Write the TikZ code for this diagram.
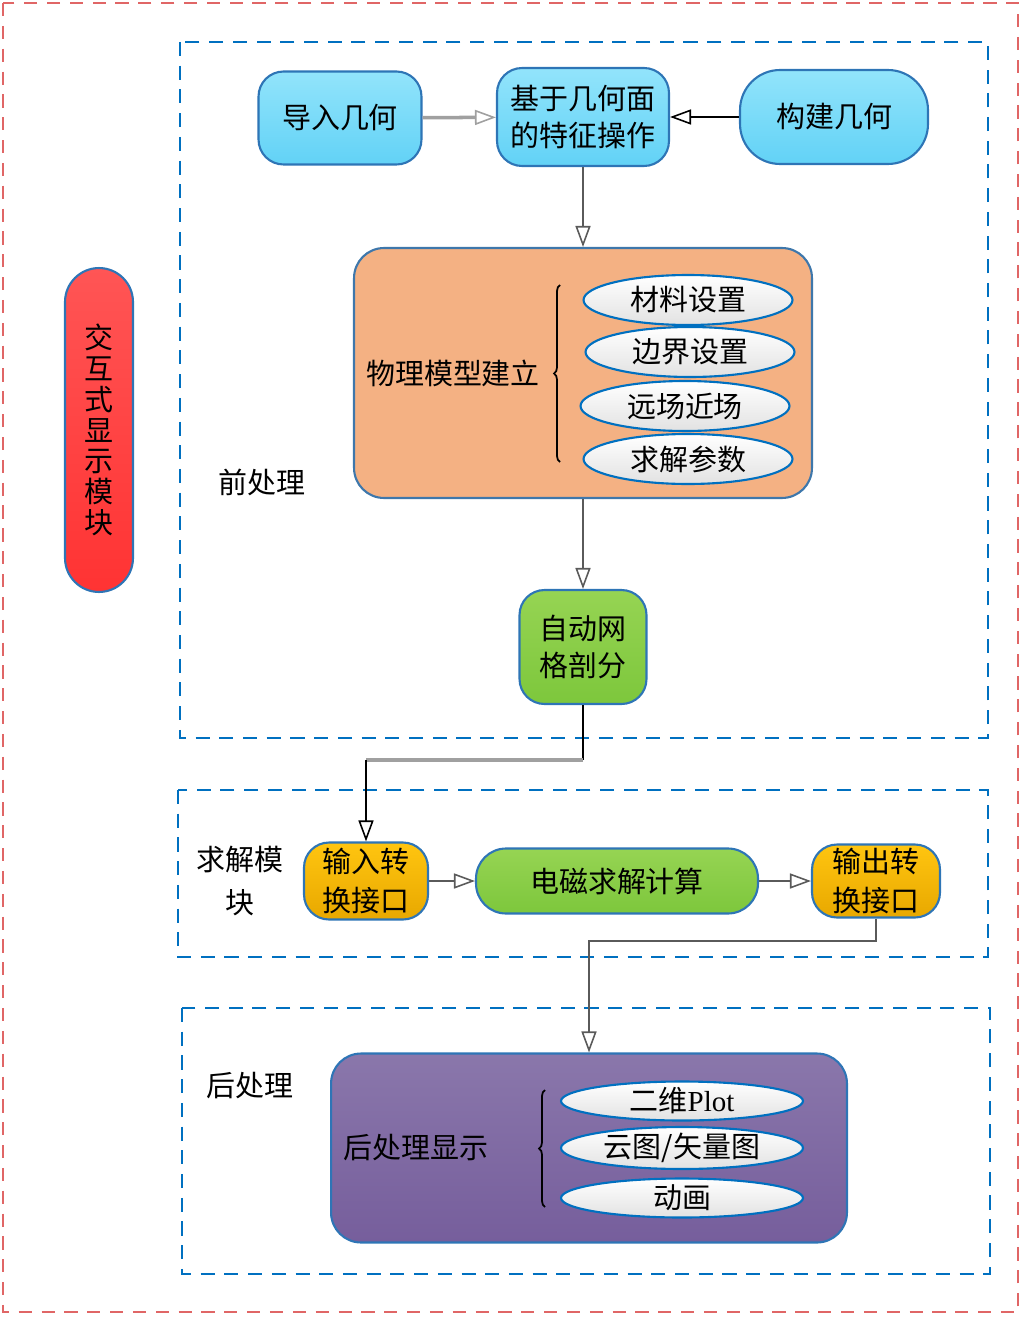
\documentclass[tikz,border=0pt]{standalone}
\usepackage{fontspec}
\setmainfont{Noto Sans CJK SC}
\newfontfamily\plotfont{Liberation Serif}
\usetikzlibrary{arrows.meta}
\usetikzlibrary{shapes.geometric}
\usetikzlibrary{decorations.pathreplacing}
\usetikzlibrary{calc}
\definecolor{lineblue}{HTML}{2E75B6}
\definecolor{zoneblue}{HTML}{0070C0}
\definecolor{zonered}{HTML}{E06666}
\definecolor{skytop}{HTML}{92E4FB}
\definecolor{skybot}{HTML}{62D2F6}
\definecolor{peach}{HTML}{F4B183}
\definecolor{leaftop}{HTML}{96D453}
\definecolor{leafbot}{HTML}{7DC73C}
\definecolor{ambertop}{HTML}{FFC510}
\definecolor{amberbot}{HTML}{E8A800}
\definecolor{plumtop}{HTML}{8A77AB}
\definecolor{plumbot}{HTML}{765E9C}
\definecolor{redtop}{HTML}{FF5555}
\definecolor{redbot}{HTML}{FF3333}
\definecolor{ovalgray}{HTML}{E2E2E2}
\definecolor{wiregray}{HTML}{5A5A5A}
\definecolor{palegray}{HTML}{A0A0A0}
\tikzstyle{box}=[draw=lineblue, line width=1.2pt, rounded corners=0.5cm, align=center, inner sep=0pt, font=\fontsize{16.5}{21}\selectfont]
\tikzstyle{skybox}=[box, top color=skytop, bottom color=skybot]
\tikzstyle{leafbox}=[box, top color=leaftop, bottom color=leafbot]
\tikzstyle{amberbox}=[box, top color=ambertop, bottom color=amberbot]
\tikzstyle{oval}=[ellipse, draw=zoneblue, line width=1.2pt, top color=white, bottom color=ovalgray, inner sep=0pt, font=\fontsize{16.5}{21}\selectfont]
\tikzstyle{lbl}=[inner sep=0pt, align=center, font=\fontsize{16.5}{21}\selectfont]
\tikzstyle{flow}=[-{Triangle[open,length=0.42cm,width=0.3cm,line width=0.9pt]}, line width=1.2pt]
\tikzstyle{zone}=[draw=zoneblue, line width=1.2pt, dash pattern=on 8pt off 5.5pt]
\newcommand{\physoval}[3]{\node[oval, minimum width=4.18cm, minimum height=1cm] (#1) at (#2) {#3};}
\newcommand{\postoval}[3]{\node[oval, minimum width=4.84cm, minimum height=0.78cm] (#1) at (#2) {#3};}
\begin{document}
\begin{tikzpicture}[x=0.02cm, y=-0.02cm]
\useasboundingbox (0,0) rectangle (1024,1321);
% frames
\draw[draw=zonered, line width=1.2pt, dash pattern=on 7.5pt off 5.5pt] (3,3) rectangle (1018,1312);
\draw[zone] (180,42) rectangle (988,738);
\draw[zone] (178,790) rectangle (988,957);
\draw[zone] (182,1008) rectangle (990,1274);
% left bar
\node[box, rounded corners=0.68cm, top color=redtop, bottom color=redbot, minimum width=1.36cm, minimum height=6.48cm,
      font=\fontsize{16.5}{17.5}\selectfont] (disp) at (99,430) {交\\互\\式\\显\\示\\模\\块};
% pre-processing
\node[skybox] (import) at (340,118) [minimum width=3.26cm, minimum height=1.86cm] {导入几何};
\node[skybox] (feat) at (583,117) [minimum width=3.44cm, minimum height=1.96cm] {基于几何面\\的特征操作};
\node[skybox, rounded corners=0.8cm] (build) at (834,117) [minimum width=3.76cm, minimum height=1.88cm] {构建几何};
\node[box, draw=lineblue!80!gray, fill=peach, rounded corners=0.6cm, minimum width=9.16cm, minimum height=5cm] (phys) at (583,373) {};
\node[lbl] (physlbl) at (453,373) {物理模型建立};
\physoval{mat}{688,300}{材料设置}
\physoval{bnd}{690,352}{边界设置}
\physoval{far}{685,406}{远场近场}
\physoval{par}{688,459}{求解参数}
\draw[line width=1pt, decorate, decoration={brace, amplitude=0.12cm}] (560,462) -- (560,285);
\node[lbl] (prelbl) at (262,482) {前处理};
\node[leafbox] (mesh) at (583,647) [minimum width=2.54cm, minimum height=2.28cm] {自动网\\格剖分};
% solver
\node[lbl, font=\fontsize{16.5}{24}\selectfont] (sollbl) at (240,881) {求解模\\块};
\node[amberbox] (inport) at (366,881) [minimum width=2.48cm, minimum height=1.54cm, font=\fontsize{16.5}{22}\selectfont] {输入转\\换接口};
\node[leafbox, rounded corners=0.6cm] (emcalc) at (617,881) [minimum width=5.64cm, minimum height=1.3cm] {电磁求解计算};
\node[amberbox] (outport) at (876,881) [minimum width=2.56cm, minimum height=1.46cm, font=\fontsize{16.5}{22}\selectfont] {输出转\\换接口};
% post-processing
\node[lbl] (postlbl) at (250,1086) {后处理};
\node[box, top color=plumtop, bottom color=plumbot, rounded corners=0.6cm, minimum width=10.32cm, minimum height=3.78cm] (post) at (589,1148) {};
\node[lbl] (postshow) at (416,1148) {后处理显示};
\postoval{plot}{682,1101}{二维{\plotfont Plot}}
\postoval{cloud}{682,1148}{云图/矢量图}
\postoval{anim}{682,1198}{动画}
\draw[line width=1pt, decorate, decoration={brace, amplitude=0.12cm}] (545,1207) -- (545,1090);
% connectors
\draw[flow, draw=palegray, line width=2pt] (import) -- (feat);
\draw[flow, black] (build) -- (feat);
\draw[flow, wiregray] (feat) -- (phys);
\draw[flow, wiregray] (phys.south -| mesh.north) -- (mesh);
\coordinate (k1) at (mesh.south |- 0,760);
\draw[line width=1.4pt, black] (mesh.south) -- (k1);
\draw[line width=2pt, palegray] (k1) -- (k1 -| inport.north);
\draw[flow, black, line width=0.8pt] (k1 -| inport.north) -- (inport.north);
\draw[flow, wiregray, line width=1.6pt] (inport) -- (emcalc);
\draw[flow, wiregray, line width=1.6pt] (emcalc) -- (outport);
\coordinate (k2) at (589,941);
\draw[flow, wiregray] (outport.south) |- (k2) -- (post.north);
\end{tikzpicture}
\end{document}
